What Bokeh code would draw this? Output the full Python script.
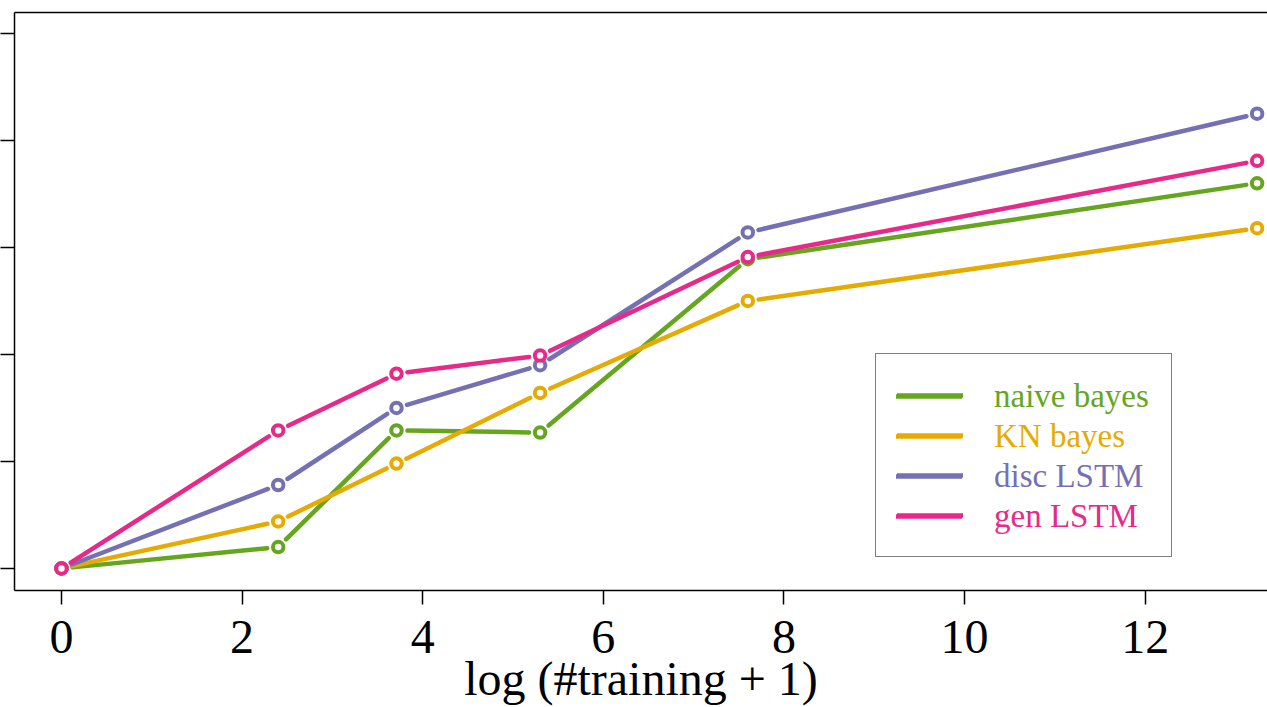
import math
from bokeh.plotting import figure
from bokeh.models import (Range1d, FixedTicker, LinearAxis, CustomJSTickFormatter,
                          Legend, LegendItem, ColumnDataSource)
from bokeh.embed import file_html
from bokeh.resources import INLINE

# ---------------- data ----------------
x_vals = [0.0, 2.40, 3.71, 5.30, 7.60, 13.24]
naive_bayes = [0.0, 0.020, 0.129, 0.127, 0.289, 0.360]
kn_bayes = [0.0, 0.044, 0.098, 0.164, 0.250, 0.318]
disc_lstm = [0.0, 0.078, 0.150, 0.190, 0.314, 0.425]
gen_lstm = [0.0, 0.129, 0.182, 0.199, 0.291, 0.381]
series_names = ["naive bayes", "KN bayes", "disc LSTM", "gen LSTM"]
series_values = [naive_bayes, kn_bayes, disc_lstm, gen_lstm]
colors = ["#66A61E", "#E6AB02", "#7570B3", "#E7298A"]
x_ticks = [0, 2, 4, 6, 8, 10, 12]
y_ticks = [0.0, 0.1, 0.2, 0.3, 0.4, 0.5]
x_label = "log (#training + 1)"

# ---------------- layout ----------------
W, H = 1267, 707
BL, BR, BT, BB = 14, 0, 12, 117
X0, X1 = -0.52, 13.355
Y0, Y1 = -0.0206, 0.5196
SX = (W - BL - BR) / (X1 - X0)
SY = (H - BT - BB) / (Y1 - Y0)
GAP = 11.0
FONT = "Liberation Serif"

p = figure(width=W, height=H, output_backend="svg", toolbar_location=None,
           x_range=Range1d(X0, X1), y_range=Range1d(Y0, Y1),
           min_border_left=BL, min_border_right=BR, min_border_top=BT, min_border_bottom=BB,
           x_axis_location=None, y_axis_location=None)
p.grid.visible = False
p.outline_line_color = None
p.background_fill_color = "white"
p.border_fill_color = "white"

empty = CustomJSTickFormatter(code="return ''")

xaxis = LinearAxis(ticker=FixedTicker(ticks=x_ticks), axis_label=x_label)
xaxis.axis_line_width = 1.5
xaxis.axis_line_color = "black"
xaxis.major_tick_line_width = 1.5
xaxis.major_tick_in = 0
xaxis.major_tick_out = 14
xaxis.minor_tick_line_color = None
xaxis.major_label_text_font = FONT
xaxis.major_label_text_font_size = "48px"
xaxis.major_label_text_color = "black"
xaxis.major_label_standoff = 16
xaxis.axis_label_text_font = FONT
xaxis.axis_label_text_font_size = "48px"
xaxis.axis_label_text_font_style = "normal"
xaxis.axis_label_text_color = "black"
xaxis.axis_label_standoff = -4
p.add_layout(xaxis, "below")

yaxis = LinearAxis(ticker=FixedTicker(ticks=y_ticks), formatter=empty)
yaxis.axis_line_width = 1.5
yaxis.axis_line_color = "black"
yaxis.major_tick_line_width = 1.5
yaxis.major_tick_in = 0
yaxis.major_tick_out = 14
yaxis.minor_tick_line_color = None
yaxis.major_label_standoff = 0
yaxis.major_label_text_font_size = "0px"
p.add_layout(yaxis, "left")

top = LinearAxis(ticker=FixedTicker(ticks=[]), formatter=empty)
top.axis_line_width = 1.5
top.axis_line_color = "black"
top.major_tick_line_color = None
top.minor_tick_line_color = None
top.major_tick_out = 0
top.major_tick_in = 0
top.major_label_standoff = 0
top.major_label_text_font_size = "0px"
p.add_layout(top, "above")

# ---------------- series (type="b": lines with gaps at points) ----------------
seg_renderers = []
for name, vals, col in zip(series_names, series_values, colors):
    xs0, ys0, xs1, ys1 = [], [], [], []
    for i in range(len(x_vals) - 1):
        ax, ay, bx, by = x_vals[i], vals[i], x_vals[i + 1], vals[i + 1]
        dxp, dyp = (bx - ax) * SX, (by - ay) * SY
        L = math.hypot(dxp, dyp)
        if L <= 2 * GAP:
            continue
        f = GAP / L
        xs0.append(ax + (bx - ax) * f)
        ys0.append(ay + (by - ay) * f)
        xs1.append(bx - (bx - ax) * f)
        ys1.append(by - (by - ay) * f)
    src = ColumnDataSource(dict(x0=xs0, y0=ys0, x1=xs1, y1=ys1))
    r = p.segment(x0="x0", y0="y0", x1="x1", y1="y1", source=src,
                  line_color=col, line_width=4.5, line_cap="round")
    seg_renderers.append(r)
    p.scatter(x_vals, vals, marker="circle", size=10.5, line_color=col,
              line_width=4.0, fill_color="white")

# ---------------- legend ----------------
PAD, GW, STAND, ROWH = 21, 66, 32, 40
LX, LY = 861, 33
LFS = "33px"

main = Legend(items=[LegendItem(label=n, renderers=[r]) for n, r in zip(series_names, seg_renderers)],
              location=(LX, LY), orientation="vertical",
              padding=PAD, margin=0, spacing=0, glyph_width=GW, glyph_height=ROWH,
              label_height=ROWH, label_standoff=STAND,
              label_text_font=FONT, label_text_font_size=LFS, label_text_alpha=0.0,
              border_line_color="black", border_line_width=1.5,
              background_fill_color="white", background_fill_alpha=1.0)
p.add_layout(main)

n = len(series_names)
for i, (nm, r, col) in enumerate(zip(series_names, seg_renderers, colors)):
    lg = Legend(items=[LegendItem(label=nm, renderers=[r])],
                location=(LX, LY + (n - 1 - i) * ROWH), orientation="vertical",
                padding=PAD, margin=0, spacing=0, glyph_width=GW, glyph_height=ROWH,
                label_height=ROWH, label_standoff=STAND,
                label_text_font=FONT, label_text_font_size=LFS, label_text_color=col,
                border_line_color="white", border_line_alpha=0.0,
                background_fill_alpha=0.0)
    p.add_layout(lg)

open("out.html", "w").write(file_html(p, INLINE))
